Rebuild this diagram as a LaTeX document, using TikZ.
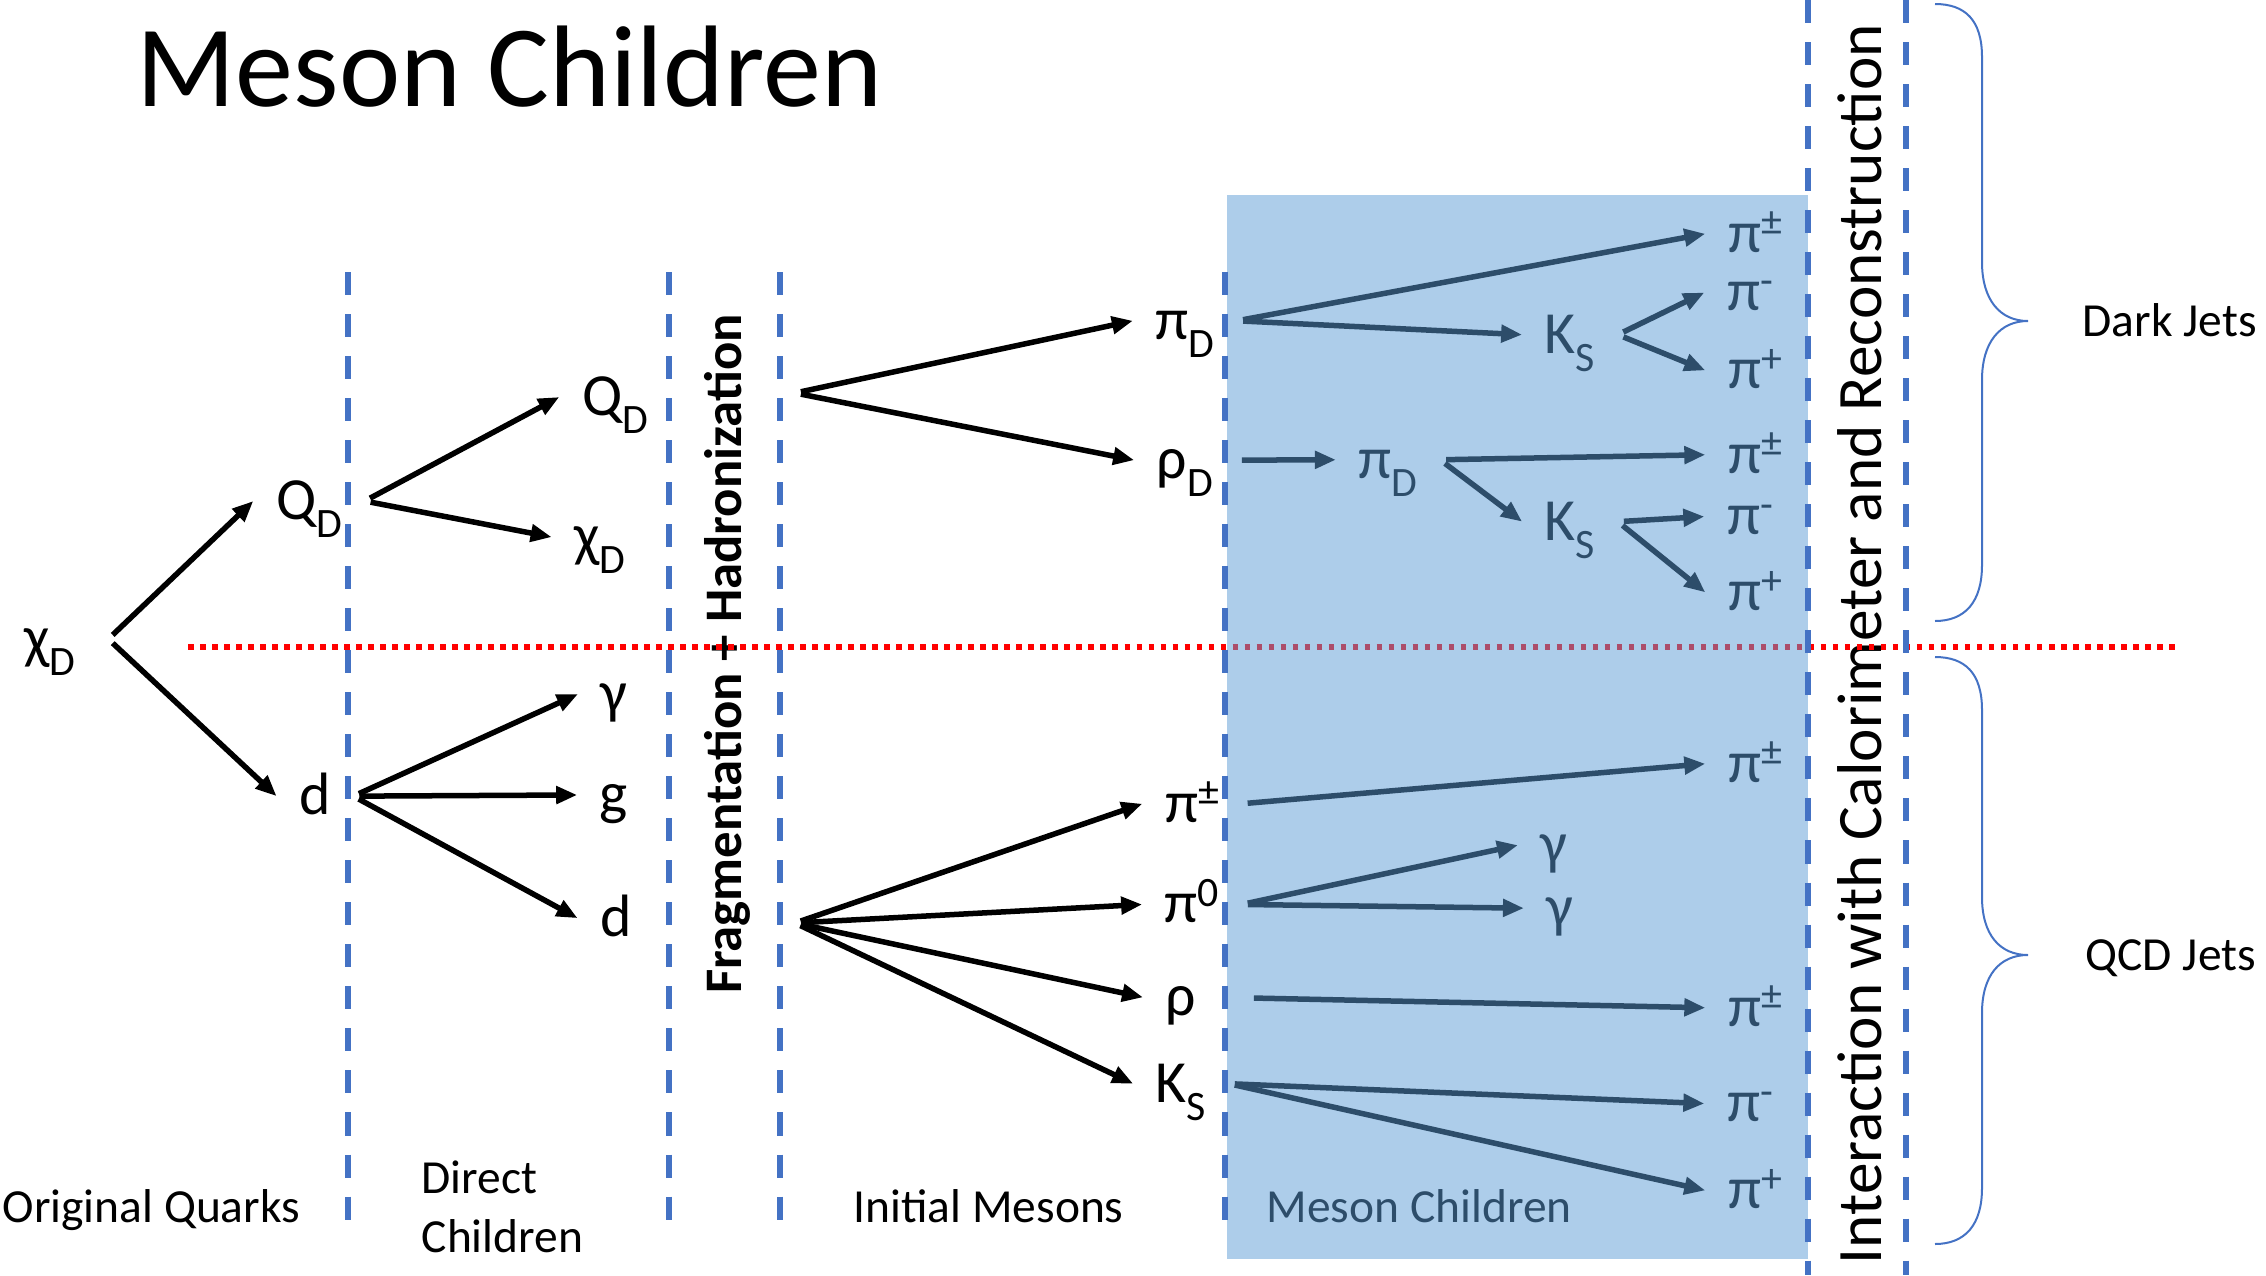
\documentclass[tikz,border=0pt]{standalone}
\usepackage{fontspec}
\setmainfont{Carlito}
\usetikzlibrary{arrows.meta}
\definecolor{divblue}{HTML}{4472C4}
\definecolor{boxblue}{HTML}{5B9BD5}
\newcommand{\lsub}[1]{\raisebox{-0.3em}{\fontsize{11.9}{12}\selectfont #1}}
\newcommand{\lsup}[1]{\raisebox{0.28em}{\fontsize{11.9}{12}\selectfont #1}}
\tikzset{%
particle/.style={inner xsep=0.22cm,inner ysep=0pt,font=\fontsize{17}{20}\selectfont},
arr/.style={-{Triangle[length=0.21cm,width=0.17cm]},line width=0.055cm,shorten <=0.06cm,
  transform canvas={yshift=0.1cm}},
stage/.style={inner sep=0pt,anchor=base west,font=\fontsize{13.5}{16.8}\selectfont},
process/.style={rotate=90,anchor=base,inner sep=0pt},
divider/.style={divblue,line width=0.055cm,dash pattern=on 0.23cm off 0.19cm},
jetsep/.style={red,line width=0.055cm,dash pattern=on 0.055cm off 0.065cm},
jetbrace/.style={divblue,line width=0.02cm}
}

\begin{document}
\begin{tikzpicture}[x=0.01cm,y=-0.01cm]
  \useasboundingbox (0,0) rectangle (2266,1275);

  \node[anchor=base west,inner sep=0pt,font=\fontsize{33}{40}\selectfont] (title) at (136,106) {Meson Children};

  % original quarks and direct children
  \node[particle,inner xsep=0.32cm] (chiD) at (50,652) {χ\lsub{D}};
  \node[particle] (QD) at (309,509) {Q\lsub{D}};
  \node[particle] (dq) at (315,794) {d};
  \node[particle] (QDb) at (615,405) {Q\lsub{D}};
  \node[particle] (chiDb) at (600,550) {χ\lsub{D}};
  \node[particle] (gam) at (614,703) {γ};
  \node[particle] (glu) at (614,804) {g};
  \node[particle] (dqb) at (616,916) {d};

  % initial mesons
  \coordinate (hadD) at (795,403);
  \coordinate (hadQ) at (795,933);
  \node[particle] (piD) at (1185,334) {π\lsub{D}};
  \node[particle] (rhoD) at (1185,473) {ρ\lsub{D}};
  \node[particle] (pipm) at (1192,802) {π\lsup{±}};
  \node[particle] (pizero) at (1192,901) {π\lsup{0}};
  \node[particle] (rho) at (1181,1006) {ρ};
  \node[particle] (KS) at (1181,1092) {K\lsub{S}};

  % meson children
  \node[particle] (pipmA) at (1755,232) {π\lsup{±}};
  \node[particle] (KSA) at (1570,343) {K\lsub{S}};
  \node[particle] (pimA) at (1750,296) {π\lsup{-}};
  \node[particle] (pipA) at (1755,369) {π\lsup{+}};
  \node[particle] (piDb) at (1388,473) {π\lsub{D}};
  \node[particle] (pipmB) at (1755,453) {π\lsup{±}};
  \node[particle] (KSB) at (1570,530) {K\lsub{S}};
  \node[particle] (pimB) at (1750,520) {π\lsup{-}};
  \node[particle] (pipB) at (1755,591) {π\lsup{+}};
  \node[particle] (pipmC) at (1755,762) {π\lsup{±}};
  \node[particle] (gamA) at (1554,854) {γ};
  \node[particle] (gamB) at (1560,917) {γ};
  \node[particle] (pipmD) at (1755,1006) {π\lsup{±}};
  \node[particle] (pimC) at (1750,1107) {π\lsup{-}};
  \node[particle] (pipC) at (1755,1189) {π\lsup{+}};

  \path[arr] (chiD.mid east) edge (QD.mid west)
                             edge (dq.mid west)
             (QD.mid east) edge (QDb.mid west)
                           edge (chiDb.mid west)
             (dq.mid east) edge (gam.mid west)
                           edge (glu.mid west)
                           edge (dqb.mid west);
  \path[arr] (hadD) edge (piD.mid west)
                    edge (rhoD.mid west)
             (hadQ) edge (pipm.mid west)
                    edge (pizero.mid west)
                    edge (rho.mid west)
                    edge (KS.mid west);
  \path[arr] (piD.mid east) edge (pipmA.mid west)
                            edge (KSA.mid west)
             (KSA.mid east) edge (pimA.mid west)
                            edge (pipA.mid west)
             (rhoD.mid east) edge (piDb.mid west)
             (piDb.mid east) edge (pipmB.mid west)
                             edge (KSB.mid west)
             (KSB.mid east) edge (pimB.mid west)
                            edge (pipB.mid west)
             (pipm.mid east) edge (pipmC.mid west)
             (pizero.mid east) edge (gamA.mid west)
                               edge (gamB.mid west)
             (rho.mid east) edge[shorten <=0.35cm] (pipmD.mid west)
             (KS.mid east) edge (pimC.mid west)
                           edge (pipC.mid west);

  % stage labels
  \node[stage] (orig) at (2,1222) {Original Quarks};
  \node[stage,anchor=west,align=left] (direct) at (421,1207) {Direct\\Children};
  \node[stage] (initial) at (853,1222) {Initial Mesons};
  \node[stage] (children) at (1266,1222) {Meson Children};
  \node[process,font=\fontsize{15}{18}\selectfont\bfseries] (frag) at (741,654) {Fragmentation + Hadronization};
  \node[process,font=\fontsize{18}{20}\selectfont] (calo) at (1881,644) {Interaction with Calorimeter and Reconstruction};

  \draw[jetsep] (188,647) -- (2175,647);
  \fill[boxblue,opacity=0.5] (1227,195) rectangle (1808,1259);

  \foreach \x in {348,669,780,1225}
    \draw[divider] (\x,272) -- (\x,1235);
  \foreach \x in {1808,1906}
    \draw[divider] (\x,0) -- (\x,1275);

  % jet braces
  \draw[jetbrace] (1935,4) .. controls (1965,4) and (1982,20) .. (1982,57) -- (1982,262)
    .. controls (1982,300) and (2000,321) .. (2028,321)
    .. controls (2000,321) and (1982,342) .. (1982,380) -- (1982,565)
    .. controls (1982,602) and (1965,621) .. (1935,621);
  \draw[jetbrace] (1935,657) .. controls (1965,657) and (1982,673) .. (1982,710) -- (1982,897)
    .. controls (1982,935) and (2000,955) .. (2028,955)
    .. controls (2000,955) and (1982,975) .. (1982,1013) -- (1982,1188)
    .. controls (1982,1225) and (1965,1244) .. (1935,1244);
  \node[stage,anchor=west] (dark) at (2082,320) {Dark Jets};
  \node[stage,anchor=west] (qcd) at (2085,958) {QCD Jets};

\end{tikzpicture}
\end{document}
